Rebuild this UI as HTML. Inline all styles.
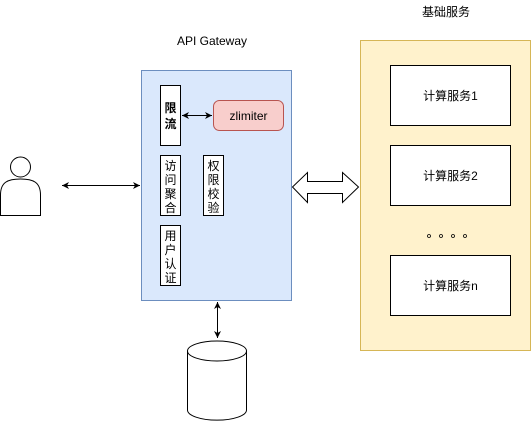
<!DOCTYPE html>
<html><head><meta charset="utf-8"><style>html,body{margin:0;padding:0;background:#fff}svg{display:block}text{font-family:"Liberation Sans","Noto Sans CJK SC",sans-serif;font-size:12px;fill:#000}</style></head><body>
<svg width="531" height="422" viewBox="0 0 531 422" xmlns="http://www.w3.org/2000/svg">
<defs><marker id="a" markerWidth="8" markerHeight="8" refX="7" refY="4" orient="auto-start-reverse" markerUnits="userSpaceOnUse"><path d="M0,0.5 L7,4 L0,7.5 L2,4 Z" fill="#000"/></marker></defs>
<text x="212" y="45" text-anchor="middle">API Gateway</text>
<rect x="141.5" y="70.5" width="150" height="230" fill="#dae8fc" stroke="#6c8ebf"/>
<rect x="160.5" y="85.5" width="20" height="60" fill="#fff" stroke="#000"/>
<text x="170.5" y="112" text-anchor="middle" font-weight="bold">限</text>
<text x="170.5" y="128" text-anchor="middle" font-weight="bold">流</text>
<rect x="213.5" y="100.5" width="70" height="30" rx="6" fill="#f8cecc" stroke="#b85450"/>
<text x="248.5" y="120" text-anchor="middle">zlimiter</text>
<line x1="182" y1="115.5" x2="212" y2="115.5" stroke="#000" marker-start="url(#a)" marker-end="url(#a)"/>
<rect x="160.5" y="155.5" width="20" height="60" fill="#fff" stroke="#000"/>
<text x="170.5" y="170" text-anchor="middle">访</text><text x="170.5" y="184" text-anchor="middle">问</text><text x="170.5" y="198" text-anchor="middle">聚</text><text x="170.5" y="212" text-anchor="middle">合</text>
<rect x="203.5" y="155.5" width="20" height="60" fill="#fff" stroke="#000"/>
<text x="213.5" y="170" text-anchor="middle">权</text><text x="213.5" y="184" text-anchor="middle">限</text><text x="213.5" y="198" text-anchor="middle">校</text><text x="213.5" y="212" text-anchor="middle">验</text>
<rect x="160.5" y="225.5" width="20" height="60" fill="#fff" stroke="#000"/>
<text x="170.5" y="240" text-anchor="middle">用</text><text x="170.5" y="254" text-anchor="middle">户</text><text x="170.5" y="268" text-anchor="middle">认</text><text x="170.5" y="282" text-anchor="middle">证</text>
<circle cx="20.5" cy="167" r="10" fill="#fff" stroke="#000"/>
<path d="M0.5,215.5 L0.5,195 C0.5,182 8,179 20.5,179 C33,179 40.5,182 40.5,195 L40.5,215.5 Z" fill="#fff" stroke="#000"/>
<line x1="62" y1="185.5" x2="140" y2="185.5" stroke="#000" marker-start="url(#a)" marker-end="url(#a)"/>
<path d="M292.5,187 L307.5,172.5 L307.5,181.5 L342.5,181.5 L342.5,172.5 L358.5,187 L342.5,202.5 L342.5,193.5 L307.5,193.5 L307.5,202.5 Z" fill="#fff" stroke="#000"/>
<line x1="217.5" y1="302" x2="217.5" y2="338" stroke="#000" marker-start="url(#a)" marker-end="url(#a)"/>
<path d="M187.5,351 L187.5,410 A29,10 0 0 0 246.5,410 L246.5,351" fill="#fff" stroke="#000"/>
<ellipse cx="217" cy="351" rx="29.5" ry="10" fill="#fff" stroke="#000"/>
<text x="446" y="16" text-anchor="middle">基础服务</text>
<rect x="360.5" y="40.5" width="170" height="310" fill="#fff2cc" stroke="#d6b656"/>
<rect x="390.5" y="65.5" width="120" height="60" fill="#fff" stroke="#000"/>
<text x="450.5" y="100" text-anchor="middle">计算服务1</text>
<rect x="390.5" y="145.5" width="120" height="60" fill="#fff" stroke="#000"/>
<text x="450.5" y="180" text-anchor="middle">计算服务2</text>
<g fill="none" stroke="#000" stroke-width="0.8"><circle cx="429" cy="236" r="1.5"/><circle cx="441" cy="236" r="1.5"/><circle cx="453" cy="236" r="1.5"/><circle cx="465" cy="236" r="1.5"/></g>
<rect x="390.5" y="255.5" width="120" height="60" fill="#fff" stroke="#000"/>
<text x="450.5" y="290" text-anchor="middle">计算服务n</text>
</svg>
</body></html>
